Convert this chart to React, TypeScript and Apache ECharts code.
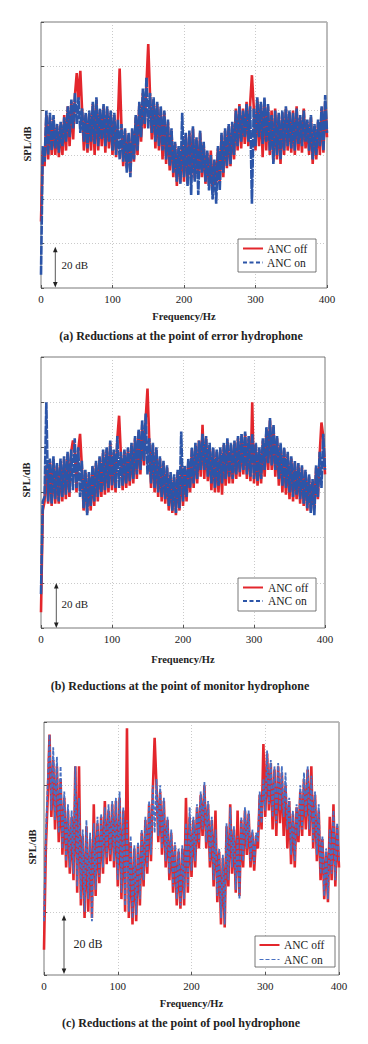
import React, { useEffect, useRef } from "react";
import * as echarts from "echarts";

// Frequency resolution of the sampled spectra (Hz per point, 0..400 Hz)
const FREQ_STEP = 2.5;
const X_TICKS = [0, 100, 200, 300, 400];
const LEGEND_NAMES = ["ANC off", "ANC on"];
const CAPTIONS = [
  "(a) Reductions at the point of error hydrophone",
  "(b) Reductions at the point of monitor hydrophone",
  "(c) Reductions at the point of pool hydrophone",
];
const SCALE_LABEL = "20 dB";

// (a) error hydrophone, SPL (dB, relative), one value per 2.5 Hz
const A_OFF = [
  30, 62, 55, 78, 58, 77, 60, 76,
  60, 73, 59, 74, 60, 78, 62, 82,
  64, 84, 67, 87, 97, 85, 98, 80,
  62, 78, 61, 79, 62, 83, 60, 85,
  62, 80, 64, 82, 61, 81, 63, 79,
  60, 78, 59, 75, 99, 73, 55, 71,
  54, 69, 52, 71, 57, 77, 60, 83,
  66, 88, 72, 92, 110, 87, 67, 85,
  63, 83, 62, 81, 58, 79, 56, 75,
  53, 71, 50, 65, 46, 63, 48, 66,
  48, 69, 47, 70, 50, 72, 49, 67,
  50, 70, 50, 65, 47, 61, 46, 62,
  43, 57, 47, 63, 48, 69, 50, 71,
  54, 73, 55, 74, 58, 81, 62, 83,
  63, 81, 65, 84, 64, 83, 96, 82,
  62, 85, 64, 83, 59, 85, 62, 82,
  60, 80, 57, 81, 58, 78, 56, 79,
  60, 81, 62, 79, 61, 80, 60, 82,
  62, 77, 61, 81, 63, 75, 60, 77,
  56, 73, 58, 75, 60, 81, 61, 84,
  68,
];
const A_ON = [
  6, 64, 57, 80, 60, 79, 62, 78,
  63, 74, 61, 75, 64, 77, 66, 82,
  68, 85, 72, 88, 74, 86, 70, 81,
  66, 79, 63, 80, 66, 84, 65, 86,
  64, 81, 67, 83, 64, 82, 66, 80,
  62, 79, 60, 76, 58, 74, 57, 72,
  52, 70, 50, 72, 58, 78, 62, 84,
  68, 90, 74, 95, 72, 88, 70, 86,
  66, 84, 64, 82, 62, 80, 58, 76,
  55, 72, 52, 66, 48, 64, 47, 79,
  50, 70, 46, 71, 42, 73, 48, 68,
  42, 71, 52, 66, 48, 62, 44, 60,
  40, 58, 38, 64, 44, 70, 52, 72,
  55, 74, 56, 75, 60, 80, 64, 82,
  66, 80, 68, 83, 66, 82, 38, 81,
  64, 86, 68, 84, 65, 86, 66, 83,
  62, 78, 56, 80, 60, 79, 58, 80,
  62, 82, 64, 80, 63, 79, 62, 81,
  65, 78, 64, 80, 66, 76, 62, 78,
  58, 74, 60, 76, 64, 82, 62, 87,
  70,
];

// (b) monitor hydrophone
const B_OFF = [
  7, 52, 56, 72, 55, 74, 54, 75,
  55, 72, 55, 74, 56, 75, 57, 77,
  58, 78, 83, 80, 60, 79, 86, 72,
  52, 69, 51, 68, 52, 71, 54, 73,
  56, 75, 58, 78, 59, 79, 60, 82,
  61, 78, 60, 84, 94, 77, 61, 78,
  62, 79, 63, 81, 64, 84, 66, 87,
  68, 90, 72, 93, 106, 83, 62, 81,
  60, 79, 58, 75, 56, 73, 55, 71,
  52, 68, 51, 67, 50, 69, 52, 72,
  54, 71, 56, 74, 60, 79, 62, 81,
  64, 83, 67, 90, 66, 84, 65, 81,
  61, 79, 60, 78, 60, 79, 59, 81,
  63, 83, 64, 81, 64, 82, 66, 84,
  67, 85, 68, 86, 66, 84, 65, 100,
  64, 81, 63, 79, 64, 83, 67, 88,
  70, 92, 70, 89, 67, 84, 63, 81,
  60, 79, 59, 77, 57, 75, 56, 73,
  57, 72, 55, 71, 54, 69, 52, 67,
  52, 65, 53, 71, 57, 77, 91, 85,
  68,
];
const B_ON = [
  15, 56, 58, 100, 56, 75, 55, 76,
  57, 73, 56, 75, 58, 76, 59, 78,
  60, 79, 61, 84, 62, 80, 58, 74,
  53, 70, 50, 69, 54, 72, 56, 74,
  58, 76, 60, 79, 61, 80, 62, 83,
  63, 79, 62, 85, 62, 78, 63, 79,
  64, 80, 65, 82, 66, 85, 68, 88,
  70, 92, 74, 95, 68, 84, 64, 82,
  62, 80, 60, 76, 58, 74, 57, 72,
  54, 69, 52, 68, 51, 70, 53, 87,
  56, 72, 58, 75, 62, 80, 64, 82,
  66, 83, 70, 86, 70, 85, 67, 82,
  64, 80, 62, 79, 63, 80, 64, 82,
  66, 84, 67, 82, 66, 83, 68, 85,
  69, 86, 70, 87, 68, 85, 67, 86,
  66, 82, 65, 80, 66, 84, 70, 89,
  73, 93, 72, 90, 70, 85, 66, 82,
  63, 80, 62, 78, 60, 76, 58, 74,
  59, 73, 57, 72, 55, 70, 53, 68,
  51, 66, 50, 72, 58, 78, 62, 86,
  70,
];

// (c) pool hydrophone
const C_OFF = [
  8, 40, 56, 76, 50, 68, 46, 66,
  42, 62, 38, 56, 34, 52, 32, 50,
  30, 66, 26, 66, 22, 44, 18, 47,
  20, 43, 18, 54, 25, 48, 29, 50,
  32, 55, 35, 52, 36, 54, 34, 55,
  28, 56, 24, 52, 20, 78, 18, 42,
  16, 40, 17, 41, 22, 45, 28, 49,
  32, 54, 36, 58, 75, 60, 42, 58,
  38, 55, 34, 49, 30, 45, 26, 41,
  22, 39, 21, 40, 22, 56, 26, 50,
  31, 49, 34, 53, 40, 57, 44, 60,
  40, 54, 34, 49, 28, 52, 23, 39,
  16, 37, 15, 47, 28, 54, 32, 46,
  26, 52, 25, 49, 34, 52, 38, 51,
  34, 45, 33, 44, 40, 57, 46, 73,
  50, 70, 52, 67, 46, 65, 44, 66,
  48, 64, 44, 60, 40, 55, 35, 51,
  34, 53, 42, 58, 44, 62, 46, 65,
  44, 66, 40, 57, 36, 52, 30, 43,
  24, 39, 23, 50, 30, 54, 28, 47,
  34,
];
const C_ON = [
  17, 44, 60, 76, 52, 72, 49, 69,
  45, 66, 40, 58, 36, 54, 34, 52,
  32, 66, 28, 56, 24, 46, 20, 49,
  24, 45, 17, 48, 27, 50, 31, 51,
  34, 53, 37, 54, 38, 55, 36, 56,
  30, 58, 26, 53, 22, 49, 20, 44,
  18, 41, 19, 42, 24, 46, 30, 50,
  34, 55, 38, 60, 45, 62, 44, 60,
  40, 56, 36, 50, 32, 46, 28, 42,
  24, 40, 22, 41, 24, 48, 28, 53,
  33, 50, 36, 54, 42, 58, 46, 61,
  42, 55, 36, 50, 30, 46, 25, 40,
  18, 38, 16, 48, 30, 53, 34, 47,
  27, 44, 24, 50, 36, 53, 40, 52,
  36, 46, 35, 45, 42, 58, 48, 62,
  52, 71, 54, 68, 50, 66, 48, 67,
  52, 66, 50, 64, 46, 56, 38, 52,
  36, 54, 44, 60, 46, 64, 50, 66,
  46, 63, 42, 58, 38, 54, 32, 44,
  25, 40, 24, 46, 32, 52, 30, 48,
  36,
];

const SERIF = '"Liberation Serif", "Times New Roman", serif';
const RED = "#e3262c";
const BLUE_AB = "#2c55a8";
const BLUE_C = "#4870c2";

const toPairs = (vals: number[]) => vals.map((v, i) => [i * FREQ_STEP, v]);

// layout (pixels)
const LAYOUT = [
  {
    grid: { left: 41, top: 22, width: 286, height: 266 },
    yMax: 120,
    off: A_OFF, on: A_ON, blue: BLUE_AB, redW: 2.6, blueW: 2.6, dash: [9, 1],
    spl: { x: 27, y: 144 }, freqY: 316, capY: 336, capX: 181,
    legend: { x: 238, y: 239, w: 78, h: 33, l1: 248.5, l2: 262.5, lx: 243, tx: 267 },
    arrow: { x: 55.3, y1: 246.7, y2: 287.5, tx: 61.5, ty: 264.5, fs: 11 },
  },
  {
    grid: { left: 41, top: 357, width: 284, height: 271 },
    yMax: 120,
    off: B_OFF, on: B_ON, blue: BLUE_AB, redW: 2.6, blueW: 2.6, dash: [9, 1],
    spl: { x: 26, y: 480 }, freqY: 659, capY: 686, capX: 180,
    legend: { x: 238, y: 578, w: 78, h: 33, l1: 587.5, l2: 601, lx: 243, tx: 268 },
    arrow: { x: 56.3, y1: 583, y2: 628, tx: 61.5, ty: 604, fs: 11 },
  },
  {
    grid: { left: 44, top: 722, width: 295, height: 253 },
    yMax: 80,
    off: C_OFF, on: C_ON, blue: BLUE_C, redW: 2.6, blueW: 1.8, dash: [4, 1.5],
    spl: { x: 32, y: 847 }, freqY: 1003, capY: 1023, capX: 181,
    legend: { x: 255, y: 936, w: 80, h: 31, l1: 945, l2: 959.5, lx: 259.5, tx: 284 },
    arrow: { x: 64, y1: 915, y2: 974, tx: 73.5, ty: 944, fs: 12 },
  },
];

export default function App() {
  const ref = useRef<HTMLDivElement>(null);

  useEffect(() => {
    if (!ref.current) return;
    const chart = echarts.init(ref.current, null, { renderer: "svg" });

    const grids: any[] = [];
    const xAxes: any[] = [];
    const yAxes: any[] = [];
    const series: any[] = [];
    const graphics: any[] = [];

    LAYOUT.forEach((p, k) => {
      grids.push({
        ...p.grid,
        show: true,
        borderColor: "#555",
        borderWidth: 0.8,
        backgroundColor: "#fff",
        containLabel: false,
      });
      xAxes.push({
        type: "value",
        gridIndex: k,
        min: X_TICKS[0],
        max: X_TICKS[X_TICKS.length - 1],
        interval: 100,
        axisLine: { show: false },
        axisTick: { show: true, inside: true, length: 3, lineStyle: { color: "#555" } },
        axisLabel: { color: "#222", fontSize: 11, fontFamily: SERIF, margin: 5 },
        splitLine: { show: true, lineStyle: { color: "#bdbdbd", type: [1, 2], width: 0.8 } },
      });
      yAxes.push({
        type: "value",
        gridIndex: k,
        min: 0,
        max: p.yMax,
        interval: 20,
        axisLine: { show: false },
        axisTick: { show: true, inside: true, length: 3, lineStyle: { color: "#555" } },
        axisLabel: { show: false },
        splitLine: { show: true, lineStyle: { color: "#bdbdbd", type: [1, 2], width: 0.8 } },
      });
      series.push({
        type: "line",
        name: LEGEND_NAMES[0],
        xAxisIndex: k,
        yAxisIndex: k,
        data: toPairs(p.off),
        showSymbol: false,
        symbol: "none",
        silent: true,
        lineStyle: { color: RED, width: p.redW, join: "miter" },
        z: 2,
      });
      series.push({
        type: "line",
        name: LEGEND_NAMES[1],
        xAxisIndex: k,
        yAxisIndex: k,
        data: toPairs(p.on),
        showSymbol: false,
        symbol: "none",
        silent: true,
        lineStyle: { color: p.blue, width: p.blueW, type: p.dash },
        z: 3,
      });

      // axis titles & caption
      graphics.push({
        type: "text",
        x: p.spl.x,
        y: p.spl.y,
        rotation: Math.PI / 2,
        style: {
          text: "SPL/dB",
          fill: "#222",
          font: `bold 10.5px ${SERIF}`,
          align: "center",
          verticalAlign: "middle",
        },
      });
      graphics.push({
        type: "text",
        x: p.grid.left + p.grid.width / 2,
        y: p.freqY,
        style: {
          text: "Frequency/Hz",
          fill: "#222",
          font: `bold 10.5px ${SERIF}`,
          align: "center",
          verticalAlign: "middle",
        },
      });
      graphics.push({
        type: "text",
        x: p.capX,
        y: p.capY,
        style: {
          text: CAPTIONS[k],
          fill: "#222",
          font: `bold 12px ${SERIF}`,
          align: "center",
          verticalAlign: "middle",
        },
      });

      // legend
      const L = p.legend;
      graphics.push({
        type: "rect",
        shape: { x: L.x, y: L.y, width: L.w, height: L.h },
        style: { fill: "#fff", stroke: "#555", lineWidth: 0.8 },
        z: 100,
      });
      graphics.push({
        type: "line",
        shape: { x1: L.lx, y1: L.l1, x2: L.lx + 20, y2: L.l1 },
        style: { stroke: RED, lineWidth: 2 },
        z: 101,
      });
      graphics.push({
        type: "line",
        shape: { x1: L.lx, y1: L.l2, x2: L.lx + 20, y2: L.l2 },
        style: { stroke: p.blue, lineWidth: k === 2 ? 1.2 : 2, lineDash: k === 2 ? [4, 2] : [4, 2.5] },
        z: 101,
      });
      graphics.push({
        type: "text",
        x: L.tx,
        y: L.l1,
        style: { text: LEGEND_NAMES[0], fill: "#222", font: `11.5px ${SERIF}`, verticalAlign: "middle" },
        z: 101,
      });
      graphics.push({
        type: "text",
        x: L.tx,
        y: L.l2,
        style: { text: LEGEND_NAMES[1], fill: "#222", font: `11.5px ${SERIF}`, verticalAlign: "middle" },
        z: 101,
      });

      // 20 dB scale arrow
      const A = p.arrow;
      graphics.push({
        type: "line",
        shape: { x1: A.x, y1: A.y1 + 3, x2: A.x, y2: A.y2 - 3 },
        style: { stroke: "#444", lineWidth: 0.9 },
        z: 101,
      });
      graphics.push({
        type: "polygon",
        shape: { points: [[A.x, A.y1], [A.x - 2.3, A.y1 + 5.5], [A.x + 2.3, A.y1 + 5.5]] },
        style: { fill: "#222" },
        z: 101,
      });
      graphics.push({
        type: "polygon",
        shape: { points: [[A.x, A.y2], [A.x - 2.3, A.y2 - 5.5], [A.x + 2.3, A.y2 - 5.5]] },
        style: { fill: "#222" },
        z: 101,
      });
      graphics.push({
        type: "text",
        x: A.tx,
        y: A.ty,
        style: { text: SCALE_LABEL, fill: "#222", font: `${A.fs}px ${SERIF}`, verticalAlign: "middle" },
        z: 101,
      });
    });

    chart.setOption({
      animation: false,
      backgroundColor: "#fff",
      grid: grids,
      xAxis: xAxes,
      yAxis: yAxes,
      series,
      graphic: { elements: graphics },
    });

    return () => chart.dispose();
  }, []);

  return (
    <div
      ref={ref}
      style={{ position: "absolute", left: 0, top: 0, width: 368, height: 1044, background: "#fff" }}
    />
  );
}
